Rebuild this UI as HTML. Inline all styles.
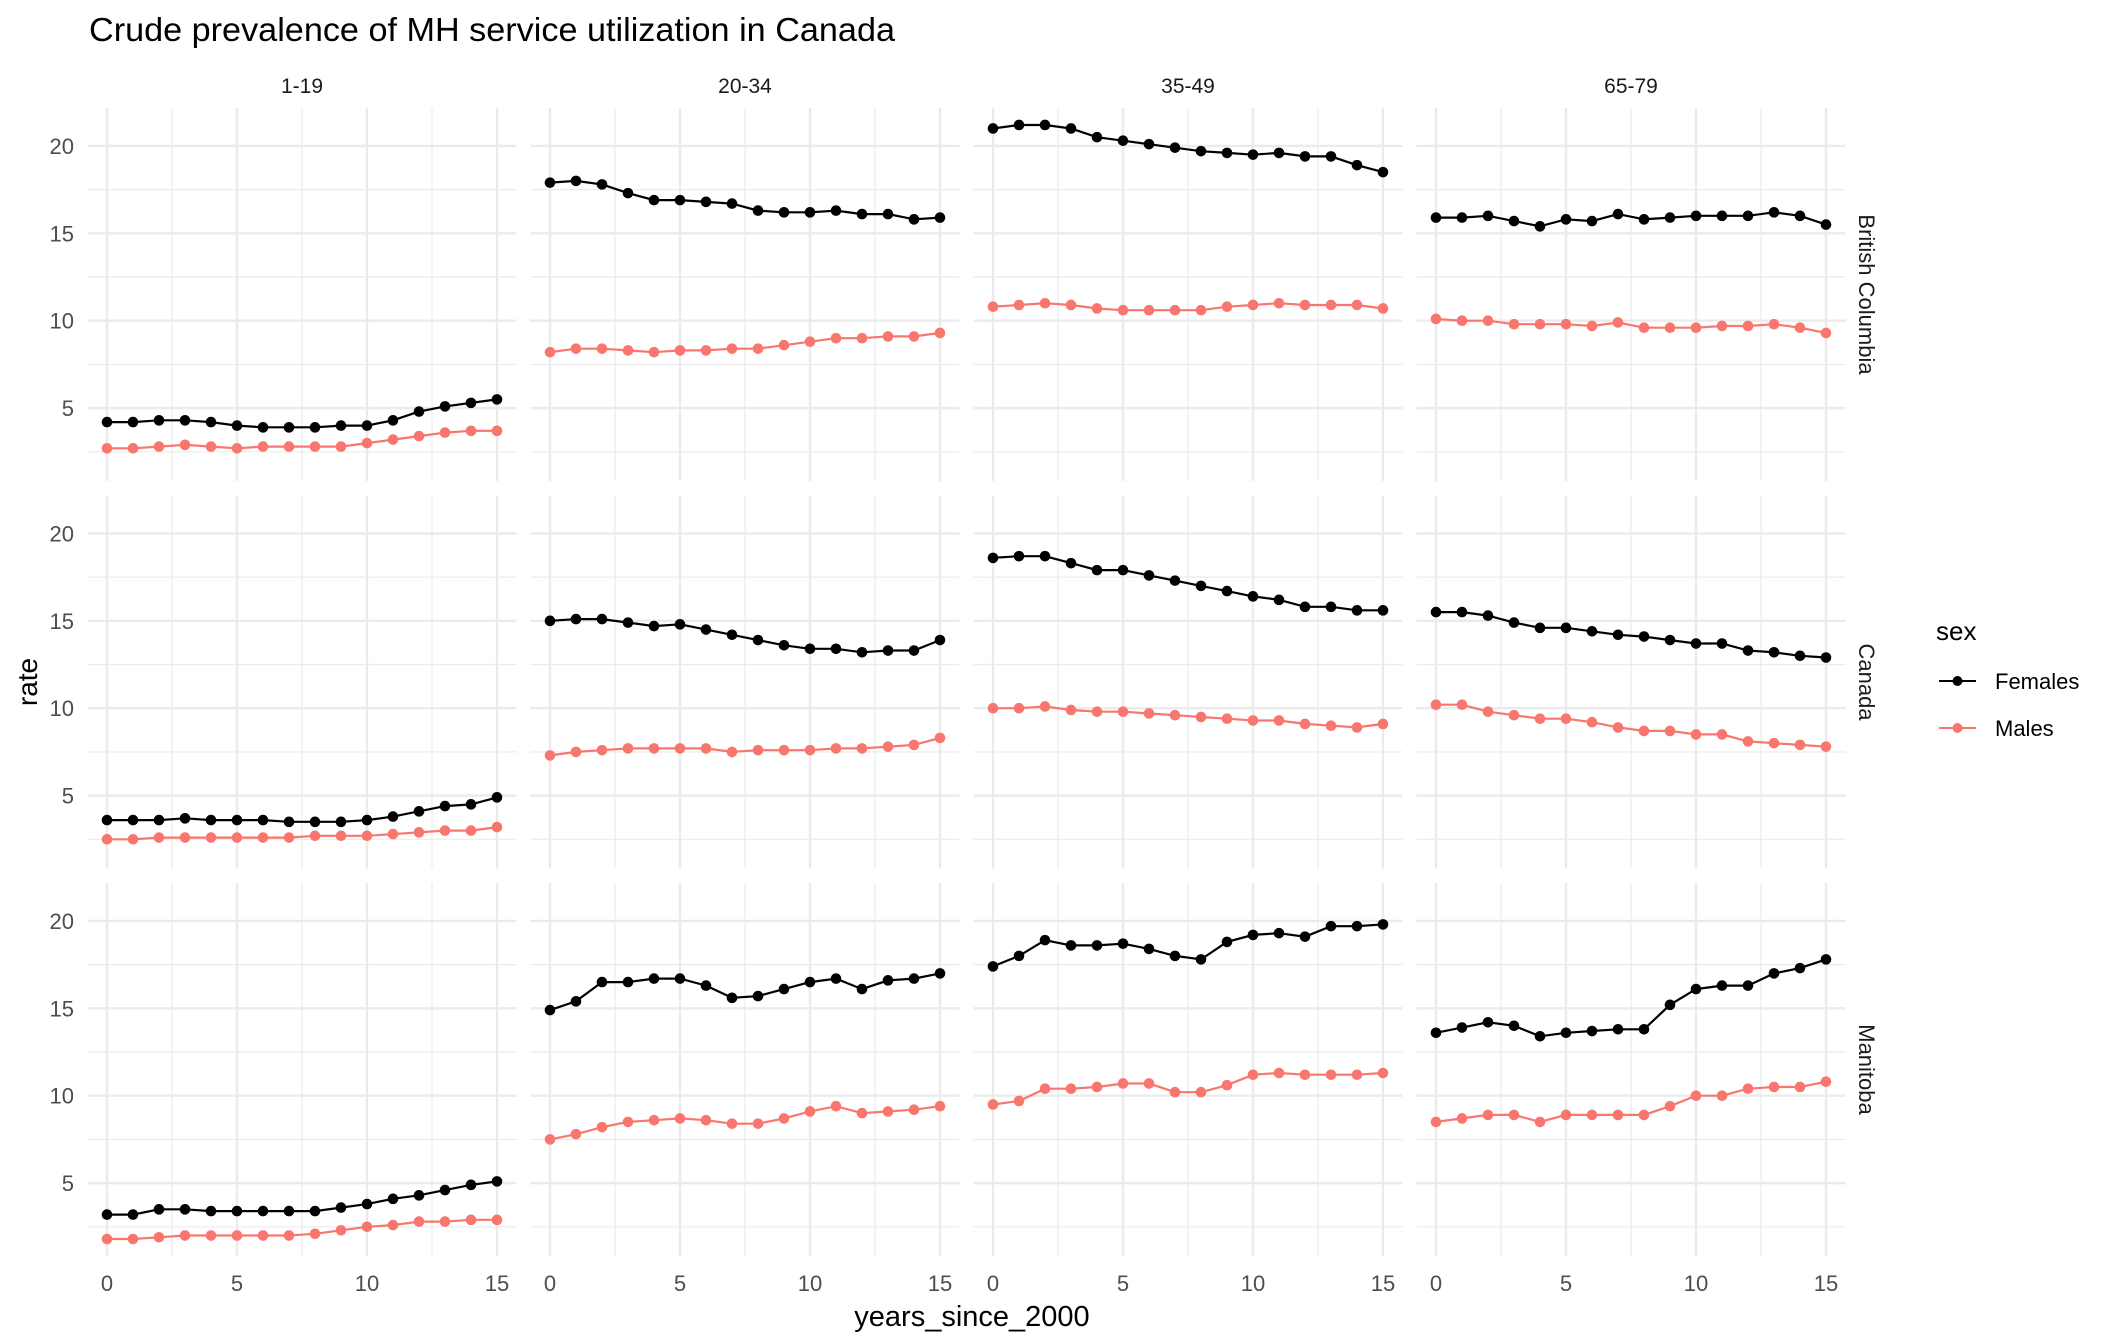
<!DOCTYPE html>
<html><head><meta charset="utf-8">
<style>
html,body{margin:0;padding:0;background:#fff;}
svg{display:block;font-family:"Liberation Sans",Arial,sans-serif;}
</style></head>
<body>
<svg id="chart" width="2112" height="1344" viewBox="0 0 2112 1344" xmlns="http://www.w3.org/2000/svg">
<rect width="2112" height="1344" fill="#fff"/>
<text x="89" y="41" font-size="33" textLength="806" lengthAdjust="spacingAndGlyphs" fill="#000">Crude prevalence of MH service utilization in Canada</text>
<text x="972" y="1326" font-size="29" text-anchor="middle" fill="#000">years_since_2000</text>
<text x="0" y="0" font-size="28" text-anchor="middle" fill="#000" transform="translate(37,682) rotate(-90)">rate</text>
<g>
<text x="1936" y="640" font-size="26" fill="#000">sex</text>
<g>
<line x1="1939" y1="681" x2="1976" y2="681" stroke="#000" stroke-width="2"/>
<circle cx="1957.5" cy="681" r="5" fill="#000"/>
<text x="1995" y="689" font-size="22" fill="#000">Females</text>
</g>
<g>
<line x1="1939" y1="728" x2="1976" y2="728" stroke="#F8766D" stroke-width="2"/>
<circle cx="1957.5" cy="728" r="5" fill="#F8766D"/>
<text x="1995" y="736" font-size="22" fill="#000">Males</text>
</g>
</g>
<g id="panels"></g>
</svg>
<script>
const years = [0,1,2,3,4,5,6,7,8,9,10,11,12,13,14,15];
const ageGroups = ["1-19","20-34","35-49","65-79"];
const regions = ["British Columbia","Canada","Manitoba"];
const xTicks = [0,5,10,15];
const yTicks = [5,10,15,20];
// British Columbia
const bcF_1_19 = [4.2,4.2,4.3,4.3,4.2,4.0,3.9,3.9,3.9,4.0,4.0,4.3,4.8,5.1,5.3,5.5];
const bcM_1_19 = [2.7,2.7,2.8,2.9,2.8,2.7,2.8,2.8,2.8,2.8,3.0,3.2,3.4,3.6,3.7,3.7];
const bcF_20_34 = [17.9,18.0,17.8,17.3,16.9,16.9,16.8,16.7,16.3,16.2,16.2,16.3,16.1,16.1,15.8,15.9];
const bcM_20_34 = [8.2,8.4,8.4,8.3,8.2,8.3,8.3,8.4,8.4,8.6,8.8,9.0,9.0,9.1,9.1,9.3];
const bcF_35_49 = [21.0,21.2,21.2,21.0,20.5,20.3,20.1,19.9,19.7,19.6,19.5,19.6,19.4,19.4,18.9,18.5];
const bcM_35_49 = [10.8,10.9,11.0,10.9,10.7,10.6,10.6,10.6,10.6,10.8,10.9,11.0,10.9,10.9,10.9,10.7];
const bcF_65_79 = [15.9,15.9,16.0,15.7,15.4,15.8,15.7,16.1,15.8,15.9,16.0,16.0,16.0,16.2,16.0,15.5];
const bcM_65_79 = [10.1,10.0,10.0,9.8,9.8,9.8,9.7,9.9,9.6,9.6,9.6,9.7,9.7,9.8,9.6,9.3];
// Canada
const caF_1_19 = [3.6,3.6,3.6,3.7,3.6,3.6,3.6,3.5,3.5,3.5,3.6,3.8,4.1,4.4,4.5,4.9];
const caM_1_19 = [2.5,2.5,2.6,2.6,2.6,2.6,2.6,2.6,2.7,2.7,2.7,2.8,2.9,3.0,3.0,3.2];
const caF_20_34 = [15.0,15.1,15.1,14.9,14.7,14.8,14.5,14.2,13.9,13.6,13.4,13.4,13.2,13.3,13.3,13.9];
const caM_20_34 = [7.3,7.5,7.6,7.7,7.7,7.7,7.7,7.5,7.6,7.6,7.6,7.7,7.7,7.8,7.9,8.3];
const caF_35_49 = [18.6,18.7,18.7,18.3,17.9,17.9,17.6,17.3,17.0,16.7,16.4,16.2,15.8,15.8,15.6,15.6];
const caM_35_49 = [10.0,10.0,10.1,9.9,9.8,9.8,9.7,9.6,9.5,9.4,9.3,9.3,9.1,9.0,8.9,9.1];
const caF_65_79 = [15.5,15.5,15.3,14.9,14.6,14.6,14.4,14.2,14.1,13.9,13.7,13.7,13.3,13.2,13.0,12.9];
const caM_65_79 = [10.2,10.2,9.8,9.6,9.4,9.4,9.2,8.9,8.7,8.7,8.5,8.5,8.1,8.0,7.9,7.8];
// Manitoba
const mbF_1_19 = [3.2,3.2,3.5,3.5,3.4,3.4,3.4,3.4,3.4,3.6,3.8,4.1,4.3,4.6,4.9,5.1];
const mbM_1_19 = [1.8,1.8,1.9,2.0,2.0,2.0,2.0,2.0,2.1,2.3,2.5,2.6,2.8,2.8,2.9,2.9];
const mbF_20_34 = [14.9,15.4,16.5,16.5,16.7,16.7,16.3,15.6,15.7,16.1,16.5,16.7,16.1,16.6,16.7,17.0];
const mbM_20_34 = [7.5,7.8,8.2,8.5,8.6,8.7,8.6,8.4,8.4,8.7,9.1,9.4,9.0,9.1,9.2,9.4];
const mbF_35_49 = [17.4,18.0,18.9,18.6,18.6,18.7,18.4,18.0,17.8,18.8,19.2,19.3,19.1,19.7,19.7,19.8];
const mbM_35_49 = [9.5,9.7,10.4,10.4,10.5,10.7,10.7,10.2,10.2,10.6,11.2,11.3,11.2,11.2,11.2,11.3];
const mbF_65_79 = [13.6,13.9,14.2,14.0,13.4,13.6,13.7,13.8,13.8,15.2,16.1,16.3,16.3,17.0,17.3,17.8];
const mbM_65_79 = [8.5,8.7,8.9,8.9,8.5,8.9,8.9,8.9,8.9,9.4,10.0,10.0,10.4,10.5,10.5,10.8];

const femalesData = [
  [bcF_1_19,bcF_20_34,bcF_35_49,bcF_65_79],
  [caF_1_19,caF_20_34,caF_35_49,caF_65_79],
  [mbF_1_19,mbF_20_34,mbF_35_49,mbF_65_79]];
const malesData = [
  [bcM_1_19,bcM_20_34,bcM_35_49,bcM_65_79],
  [caM_1_19,caM_20_34,caM_35_49,caM_65_79],
  [mbM_1_19,mbM_20_34,mbM_35_49,mbM_65_79]];

const NS = "http://www.w3.org/2000/svg";
const root = document.getElementById('panels');
function mk(tag, attrs, parent){
  const e = document.createElementNS(NS, tag);
  for (const k in attrs) e.setAttribute(k, attrs[k]);
  (parent||root).appendChild(e);
  return e;
}
const panelLeft0 = 87.5, panelW = 429, panelStep = 443;
const panelTop0 = 108, panelH = 373, rowStep = 387.5;
const xMin = Math.min(...years), xMax = Math.max(...years);
const xPad = (xMax - xMin) * 0.05;
let allVals = [];
femalesData.concat(malesData).forEach(r => r.forEach(s => allVals = allVals.concat(s)));
const vMin = Math.min(...allVals), vMax = Math.max(...allVals);
const yPad = (vMax - vMin) * 0.05;
const yLo = vMin - yPad, yHi = vMax + yPad;
function xScale(c, v){ const L = panelLeft0 + c*panelStep; return L + (v - (xMin - xPad)) / ((xMax + xPad) - (xMin - xPad)) * panelW; }
function yScale(r, v){ const T = panelTop0 + r*rowStep; return T + (yHi - v) / (yHi - yLo) * panelH; }

for (let r = 0; r < regions.length; r++) {
  for (let c = 0; c < ageGroups.length; c++) {
    const L = panelLeft0 + c*panelStep, T = panelTop0 + r*rowStep;
    const g = mk('g', {});
    
    
    for (let i = 0; i < yTicks.length; i++) {
      const mv = yTicks[i] - 2.5;
      if (mv > yLo) { const y = yScale(r, mv); mk('line', {x1:L, x2:L+panelW, y1:y, y2:y, stroke:'#EBEBEB', 'stroke-width':1.2}, g); }
    }
    for (let i = 0; i < xTicks.length - 1; i++) {
      const x = xScale(c, xTicks[i] + 2.5);
      mk('line', {x1:x, x2:x, y1:T, y2:T+panelH, stroke:'#EBEBEB', 'stroke-width':1.2}, g);
    }
    yTicks.forEach(v => { const y = yScale(r, v); mk('line', {x1:L, x2:L+panelW, y1:y, y2:y, stroke:'#EBEBEB', 'stroke-width':2.4}, g); });
    xTicks.forEach(v => { const x = xScale(c, v); mk('line', {x1:x, x2:x, y1:T, y2:T+panelH, stroke:'#EBEBEB', 'stroke-width':2.4}, g); });
    [[malesData, '#F8766D', 'males'], [femalesData, '#000000', 'females']].forEach(([src, col, nm]) => {
      const vals = src[r][c];
      const pts = vals.map((v, i) => xScale(c, years[i]).toFixed(1) + ',' + yScale(r, v).toFixed(1)).join(' ');
      const pl = mk('polyline', {points:pts, fill:'none', stroke:col, 'stroke-width':2.2}, g);
      
      
      vals.forEach((v, i) => {
        const cEl = mk('circle', {cx:xScale(c, years[i]), cy:yScale(r, v), r:5.3, fill:col}, g);
        
        
      });
    });
    if (c === 0) {
      yTicks.forEach(v => {
        const t = mk('text', {x:74, y:yScale(r, v)+8, 'font-size':22, fill:'#4D4D4D', 'text-anchor':'end'});
        
        
        t.textContent = v;
      });
    }
    if (r === regions.length - 1) {
      xTicks.forEach(v => {
        const t = mk('text', {x:xScale(c, v), y:1291, 'font-size':22, fill:'#4D4D4D', 'text-anchor':'middle'});
        
        
        t.textContent = v;
      });
    }
    if (r === 0) {
      const t = mk('text', {x:L+panelW/2, y:93, 'font-size':21, fill:'#1A1A1A', 'text-anchor':'middle'});
      
      
      t.textContent = ageGroups[c];
    }
    if (c === ageGroups.length - 1) {
      const cx = 1866, cy = T + panelH/2;
      const t = mk('text', {x:0, y:0, 'font-size':22, fill:'#1A1A1A', 'text-anchor':'middle', transform:'translate(' + (cx-7) + ',' + cy + ') rotate(90)'});
      
      
      t.textContent = regions[r];
    }
  }
}
</script>
</body></html>
